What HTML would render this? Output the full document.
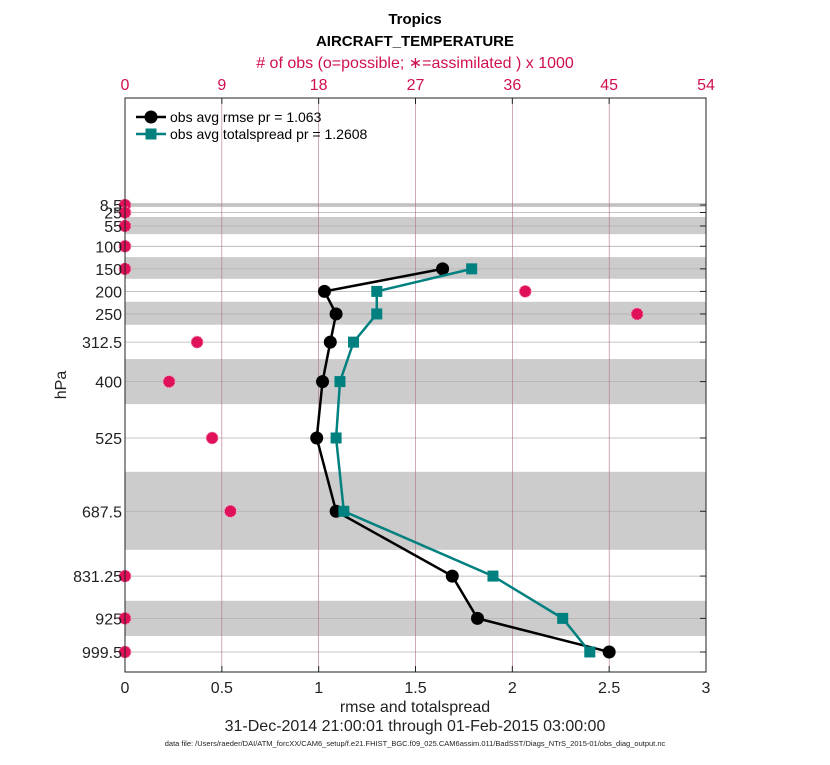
<!DOCTYPE html>
<html><head><meta charset="utf-8"><style>
body{margin:0;background:#fff;font-family:"Liberation Sans",sans-serif}
</style></head><body>
<svg id="chart" width="830" height="760" xmlns="http://www.w3.org/2000/svg" font-family="Liberation Sans, sans-serif">
<g id="bands"></g><g id="grid"></g><g id="marks"></g><g id="axes"></g>
</svg>
<script>
const levels=[8.5,25,55,100,150,200,250,312.5,400,525,687.5,831.25,925,999.5];
const levelLabels=["8.5","25","55","100","150","200","250","312.5","400","525","687.5","831.25","925","999.5"];
const bandEdges=[[4,13],[35,73],[124,172],[223,274],[350,450],[600,773],[886,964]];
const rmseLevels=[150,200,250,312.5,400,525,687.5,831.25,925,999.5];
const rmse=[1.64,1.03,1.09,1.06,1.02,0.99,1.09,1.69,1.82,2.5];
const spread=[1.79,1.30,1.30,1.18,1.11,1.09,1.13,1.90,2.26,2.40];
const obsCount=[0,0,0,0,0,37.2,47.6,6.7,4.1,8.1,9.8,0,0,0];
const xTicks=[0,0.5,1,1.5,2,2.5,3];
const topTicks=[0,9,18,27,36,45,54];
const L=125,R=706,T=98,B=672;
const xS=v=>L+(v/3)*(R-L);
const tS=v=>L+(v/54)*(R-L);
const yS=p=>201.2+0.451*p;
const NS="http://www.w3.org/2000/svg";
function mk(parent,tag,attrs,text){const e=document.createElementNS(NS,tag);for(const k in attrs)e.setAttribute(k,attrs[k]);if(text!==undefined)e.textContent=text;document.getElementById(parent).appendChild(e);return e;}
bandEdges.forEach(b=>{const e=mk('bands','rect',{x:L,y:yS(b[0]),width:R-L,height:yS(b[1])-yS(b[0]),fill:'#cccccc'});

});
levels.forEach(p=>{const e=mk('grid','line',{x1:L,x2:R,y1:yS(p),y2:yS(p),stroke:'#b0b0b0','stroke-width':0.8});

});
xTicks.slice(1,-1).forEach(v=>{const e=mk('grid','line',{x1:xS(v),x2:xS(v),y1:T,y2:B,stroke:'#b07080','stroke-width':0.6});

});
let ax=mk('axes','rect',{x:L,y:T,width:R-L,height:B-T,fill:'none',stroke:'#222','stroke-width':1});


xTicks.forEach(v=>{mk('axes','line',{x1:xS(v),x2:xS(v),y1:B,y2:B-6,stroke:'#222'});
const t=mk('axes','text',{x:xS(v),y:B+21,'font-size':16,'text-anchor':'middle',fill:'#222'},String(v));

});
topTicks.forEach(v=>{mk('axes','line',{x1:tS(v),x2:tS(v),y1:T,y2:T+6,stroke:'#222'});
const t=mk('axes','text',{x:tS(v),y:T-8,'font-size':16,'text-anchor':'middle',fill:'#d0104c'},String(v));

});
levels.forEach((p,i)=>{mk('axes','line',{x1:R,x2:R-6,y1:yS(p),y2:yS(p),stroke:'#222'});
const t=mk('axes','text',{x:L-3,y:yS(p)+6,'font-size':16,'text-anchor':'end',fill:'#222'},levelLabels[i]);

});
function series(vals,color,shape,name){
 const pts=vals.map((v,i)=>xS(v)+','+yS(rmseLevels[i])).join(' ');
 const pl=mk('marks','polyline',{points:pts,fill:'none',stroke:color,'stroke-width':2.5});
 
 
 vals.forEach((v,i)=>{let m;
  if(shape==='c')m=mk('marks','circle',{cx:xS(v),cy:yS(rmseLevels[i]),r:6.5,fill:color});
  else m=mk('marks','rect',{x:xS(v)-5.5,y:yS(rmseLevels[i])-5.5,width:11,height:11,fill:color});
  
  });
}
series(rmse,'#000','c','rmse');
series(spread,'#00807f','s','spread');
obsCount.forEach((c,i)=>{const g=mk('marks','circle',{cx:tS(c),cy:yS(levels[i]),r:6,fill:'#e0105a',stroke:'#f4a8c4','stroke-width':1,'stroke-dasharray':'1.5 1.5'});

});
</script>
<svg width="830" height="760" style="position:absolute;left:0;top:0" xmlns="http://www.w3.org/2000/svg" font-family="Liberation Sans, sans-serif">
<text x="415" y="24" font-size="15" font-weight="bold" text-anchor="middle" fill="#000">Tropics</text>
<text x="415" y="46" font-size="15" font-weight="bold" text-anchor="middle" fill="#000">AIRCRAFT_TEMPERATURE</text>
<text x="415" y="68" font-size="16" text-anchor="middle" fill="#d0104c"># of obs (o=possible; ∗=assimilated ) x 1000</text>
<text x="415" y="712" font-size="16" text-anchor="middle" fill="#222">rmse and totalspread</text>
<text x="415" y="731" font-size="16" text-anchor="middle" fill="#222">31-Dec-2014 21:00:01 through 01-Feb-2015 03:00:00</text>
<text x="415" y="746" font-size="7.5" text-anchor="middle" fill="#222">data file: /Users/raeder/DAI/ATM_forcXX/CAM6_setup/f.e21.FHIST_BGC.f09_025.CAM6assim.011/BadSST/Diags_NTrS_2015-01/obs_diag_output.nc</text>
<text transform="translate(66,385) rotate(-90)" font-size="16" text-anchor="middle" fill="#222">hPa</text>
<g>
<line x1="136" y1="117" x2="166" y2="117" stroke="#000" stroke-width="2.5"/><circle cx="151" cy="117" r="6.5" fill="#000"/>
<text x="170" y="122" font-size="14" fill="#000">obs avg rmse pr = 1.063</text>
<line x1="136" y1="134" x2="166" y2="134" stroke="#00807f" stroke-width="2.5"/><rect x="145.5" y="128.5" width="11" height="11" fill="#00807f"/>
<text x="170" y="139" font-size="14" fill="#000">obs avg totalspread pr = 1.2608</text>
</g>
</svg>
</body></html>
